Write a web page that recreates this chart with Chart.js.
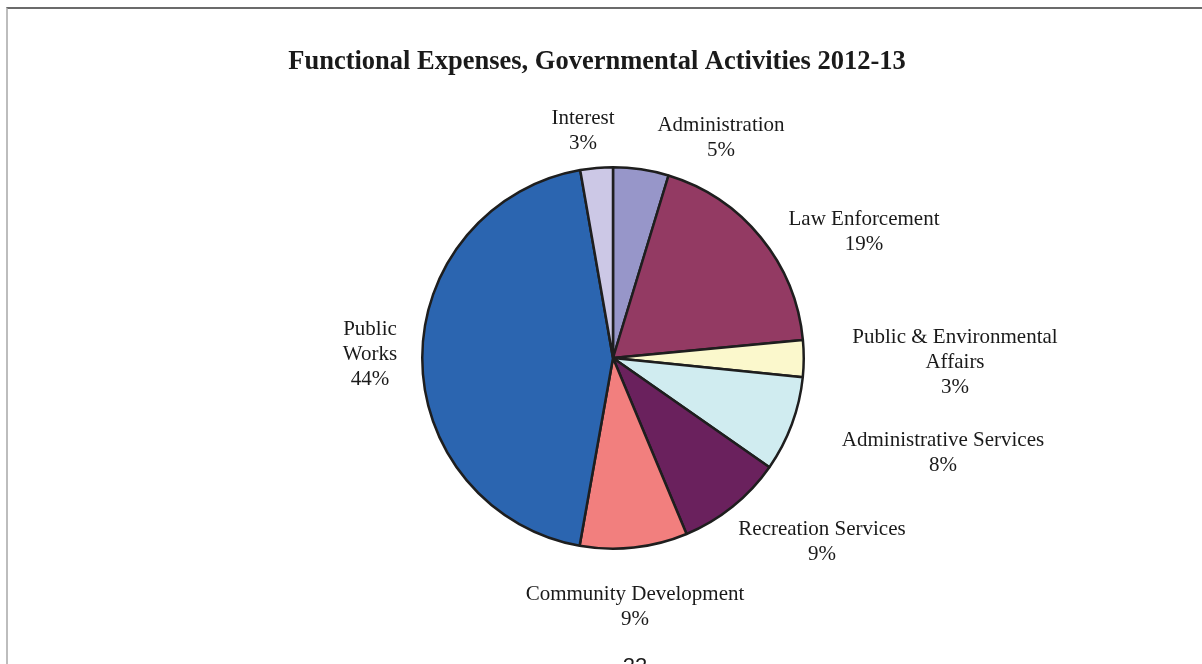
<!DOCTYPE html>
<html lang="en">
<head>
    <meta charset="UTF-8">
    <title>Functional Expenses, Governmental Activities 2012-13</title>
    <style>
        html, body {
            margin: 0;
            padding: 0;
            background-color: #ffffff;
            overflow: hidden;
        }

        /* Page frame: dark rule on top, light rule down the left */
        .page {
            position: absolute;
            left: 6px;
            top: 7px;
            width: 1196px;
            height: 657px;
            border-top: 2px solid #6b6b6b;
            border-left: 2px solid #bdbdbd;
        }

        .chart-box {
            position: absolute;
            left: 0;
            top: 0;
            width: 1202px;
            height: 664px;
        }
    </style>
    <script src="https://cdn.jsdelivr.net/npm/chart.js"></script>
</head>
<body>

    <div class="page"></div>
    <div class="chart-box">
        <canvas id="myChart" width="1202" height="664"></canvas>
    </div>

    <script>
        // Expense categories, clockwise from twelve o'clock
        const categories = [
            ['Administration'],
            ['Law Enforcement'],
            ['Public & Environmental', 'Affairs'],
            ['Administrative Services'],
            ['Recreation Services'],
            ['Community Development'],
            ['Public', 'Works'],
            ['Interest']
        ];

        // Share of total expenses (percent)
        const shares = [4.7, 18.8, 3.1, 8.1, 9.0, 9.1, 44.45, 2.75];

        const sliceColors = [
            '#9796c9', '#933a63', '#fbf8cc', '#d0ecf0',
            '#6a215d', '#f27f7e', '#2b65b0', '#ccc8e6'
        ];

        const chartTitle = 'Functional Expenses, Governmental Activities 2012-13';
        const pageNumber = '22';

        // Where each label block sits relative to the pie centre (x offset, y of first line)
        const labelSpots = [
            [108, -233],
            [251, -139],
            [342, -21],
            [330, 82],
            [209, 171],
            [22, 236],
            [-243, -29],
            [-30, -240]
        ];

        const total = shares.reduce((a, b) => a + b, 0);

        // Title, slice labels and the page number are painted after the pie
        const textPlugin = {
            id: 'pageText',
            afterDraw(chart) {
                const ctx = chart.ctx;
                const arc = chart.getDatasetMeta(0).data[0];
                const cx = arc.x;
                const cy = arc.y;

                ctx.save();
                ctx.fillStyle = '#1a1a1a';
                ctx.textAlign = 'center';
                ctx.textBaseline = 'middle';

                ctx.font = 'bold 26.5px "Liberation Serif", serif';
                ctx.fillText(chartTitle, 597, 62);

                ctx.font = '21px "Liberation Serif", serif';
                categories.forEach((lines, i) => {
                    const pct = Math.round(shares[i] / total * 100) + '%';
                    const rows = lines.concat([pct]);
                    const x = cx + labelSpots[i][0];
                    let y = cy + labelSpots[i][1];
                    rows.forEach(r => {
                        ctx.fillText(r, x, y);
                        y += 25;
                    });
                });

                ctx.font = '22px "Liberation Sans", sans-serif';
                ctx.textBaseline = 'alphabetic';
                ctx.fillText(pageNumber, 635, 673);
                ctx.restore();
            }
        };

        const ctx = document.getElementById('myChart').getContext('2d');
        const myChart = new Chart(ctx, {
            type: 'pie',
            data: {
                labels: categories.map(c => c.join(' ')),
                datasets: [{
                    data: shares,
                    backgroundColor: sliceColors,
                    borderColor: '#1e1e1e',
                    borderWidth: 2.5,
                    hoverOffset: 0
                }]
            },
            options: {
                responsive: false,
                animation: false,
                events: [],
                layout: {
                    padding: { left: 421, right: 397, top: 166, bottom: 114 }
                },
                plugins: {
                    legend: { display: false },
                    title: { display: false },
                    tooltip: { enabled: false }
                }
            },
            plugins: [textPlugin]
        });
    </script>

</body>
</html>
